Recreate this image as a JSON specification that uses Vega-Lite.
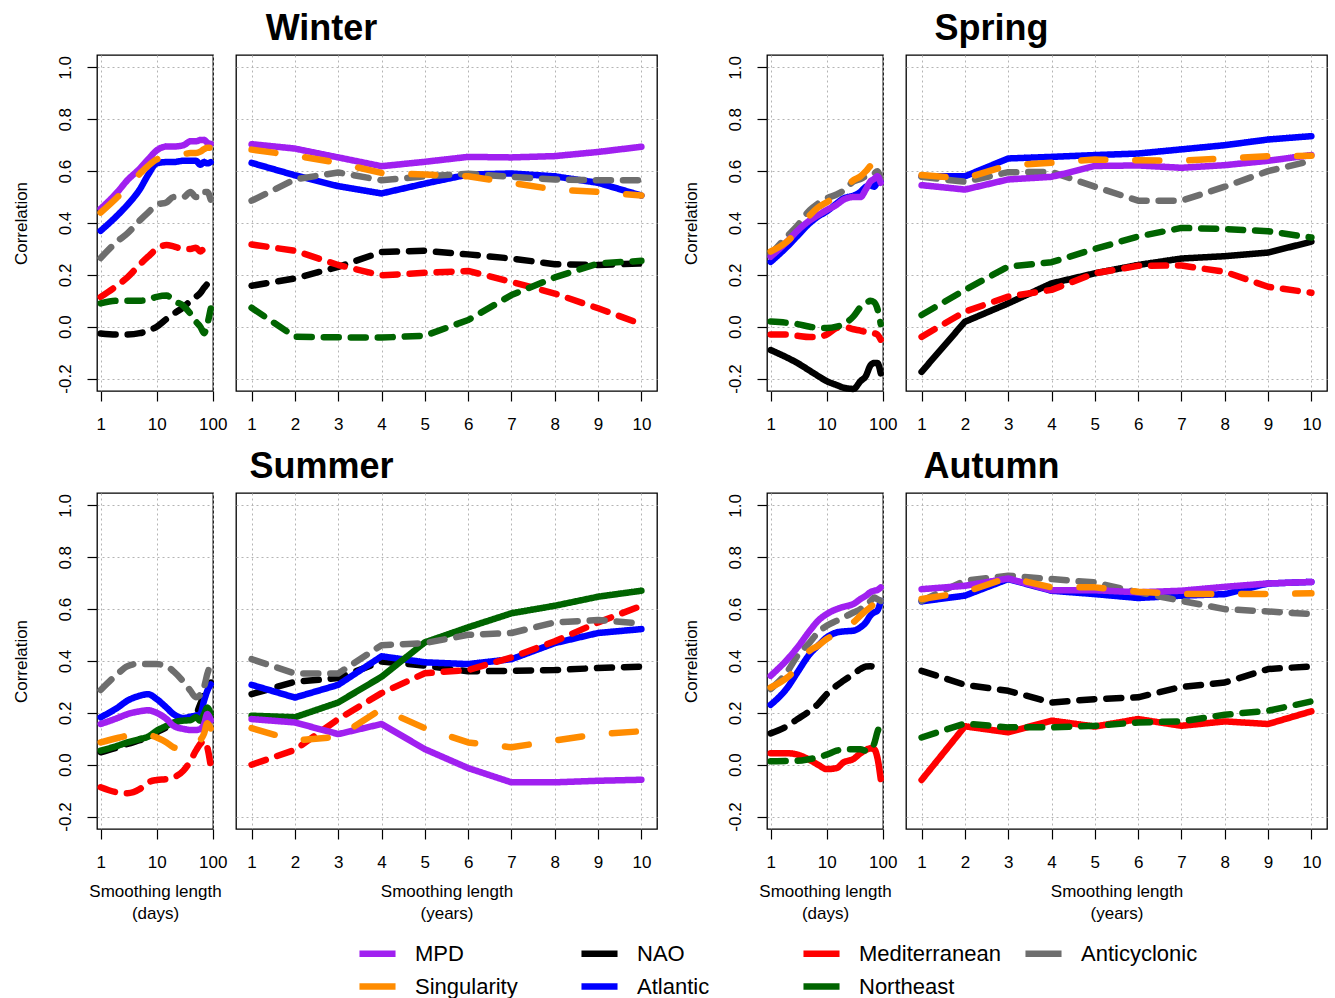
{
"$schema":"https://vega.github.io/schema/vega-lite/v6.json",
"autosize":{"type":"none"},
"padding":{"left":97,"top":55,"right":1238,"bottom":943},
"background":"white",
"config":{
 "font":"Liberation Sans",
 "view":{"stroke":"black","strokeWidth":1.3},
 "axis":{"labelFont":"Liberation Sans","labelFontSize":17,"labelColor":"black","titleFont":"Liberation Sans","titleFontSize":17,"titleFontWeight":"normal","titleColor":"black","domain":false,"tickColor":"black","tickSize":10,"tickWidth":1.2,"grid":true,"gridColor":"#b4b4b4","gridDash":[2,3],"gridWidth":1,"labelFlush":false,"labelOverlap":false},
 "axisX":{"labelPadding":15,"titlePadding":13,"titleLineHeight":22},
 "legend":{"orient":"none","legendX":259,"legendY":877,"columns":4,"symbolType":"stroke","symbolSize":1300,"labelFont":"Liberation Sans","labelFontSize":22,"labelColor":"black","labelOffset":16,"columnPadding":21,"rowPadding":0,"gridAlign":"all","padding":0},
 "title":{"font":"Liberation Sans","fontSize":36,"fontWeight":"bold","color":"black","anchor":"middle","dx":-125,"offset":7,"baseline":"alphabetic"},
 "line":{"strokeCap":"round","strokeJoin":"round"}
},
"datasets":{
"days":[
{"season":"Winter","series":"NAO","x":1,"r":-0.026},{"season":"Winter","series":"NAO","x":2,"r":-0.03},{"season":"Winter","series":"NAO","x":3,"r":-0.03},{"season":"Winter","series":"NAO","x":5,"r":-0.025},{"season":"Winter","series":"NAO","x":7,"r":-0.015},{"season":"Winter","series":"NAO","x":10,"r":0},{"season":"Winter","series":"NAO","x":15,"r":0.03},{"season":"Winter","series":"NAO","x":20,"r":0.05},{"season":"Winter","series":"NAO","x":30,"r":0.075},{"season":"Winter","series":"NAO","x":40,"r":0.1},{"season":"Winter","series":"NAO","x":50,"r":0.115},{"season":"Winter","series":"NAO","x":60,"r":0.13},{"season":"Winter","series":"NAO","x":70,"r":0.15},{"season":"Winter","series":"NAO","x":80,"r":0.165},{"season":"Winter","series":"NAO","x":92,"r":0.185},
{"season":"Winter","series":"Atlantic","x":1,"r":0.37},{"season":"Winter","series":"Atlantic","x":2,"r":0.43},{"season":"Winter","series":"Atlantic","x":3,"r":0.47},{"season":"Winter","series":"Atlantic","x":5,"r":0.53},{"season":"Winter","series":"Atlantic","x":7,"r":0.585},{"season":"Winter","series":"Atlantic","x":10,"r":0.63},{"season":"Winter","series":"Atlantic","x":15,"r":0.635},{"season":"Winter","series":"Atlantic","x":20,"r":0.635},{"season":"Winter","series":"Atlantic","x":30,"r":0.64},{"season":"Winter","series":"Atlantic","x":40,"r":0.64},{"season":"Winter","series":"Atlantic","x":50,"r":0.64},{"season":"Winter","series":"Atlantic","x":60,"r":0.625},{"season":"Winter","series":"Atlantic","x":70,"r":0.635},{"season":"Winter","series":"Atlantic","x":80,"r":0.63},{"season":"Winter","series":"Atlantic","x":92,"r":0.635},
{"season":"Winter","series":"Mediterranean","x":1,"r":0.115},{"season":"Winter","series":"Mediterranean","x":2,"r":0.16},{"season":"Winter","series":"Mediterranean","x":3,"r":0.19},{"season":"Winter","series":"Mediterranean","x":5,"r":0.24},{"season":"Winter","series":"Mediterranean","x":7,"r":0.27},{"season":"Winter","series":"Mediterranean","x":10,"r":0.3},{"season":"Winter","series":"Mediterranean","x":15,"r":0.315},{"season":"Winter","series":"Mediterranean","x":20,"r":0.31},{"season":"Winter","series":"Mediterranean","x":30,"r":0.3},{"season":"Winter","series":"Mediterranean","x":40,"r":0.3},{"season":"Winter","series":"Mediterranean","x":50,"r":0.305},{"season":"Winter","series":"Mediterranean","x":60,"r":0.29},{"season":"Winter","series":"Mediterranean","x":70,"r":0.3},{"season":"Winter","series":"Mediterranean","x":80,"r":0.295},{"season":"Winter","series":"Mediterranean","x":92,"r":0.295},
{"season":"Winter","series":"Northeast","x":1,"r":0.09},{"season":"Winter","series":"Northeast","x":2,"r":0.1},{"season":"Winter","series":"Northeast","x":3,"r":0.1},{"season":"Winter","series":"Northeast","x":5,"r":0.1},{"season":"Winter","series":"Northeast","x":7,"r":0.105},{"season":"Winter","series":"Northeast","x":10,"r":0.115},{"season":"Winter","series":"Northeast","x":15,"r":0.12},{"season":"Winter","series":"Northeast","x":20,"r":0.1},{"season":"Winter","series":"Northeast","x":30,"r":0.08},{"season":"Winter","series":"Northeast","x":40,"r":0.05},{"season":"Winter","series":"Northeast","x":50,"r":0.02},{"season":"Winter","series":"Northeast","x":60,"r":0},{"season":"Winter","series":"Northeast","x":70,"r":-0.025},{"season":"Winter","series":"Northeast","x":80,"r":0.01},{"season":"Winter","series":"Northeast","x":92,"r":0.07},
{"season":"Winter","series":"Anticyclonic","x":1,"r":0.265},{"season":"Winter","series":"Anticyclonic","x":2,"r":0.33},{"season":"Winter","series":"Anticyclonic","x":3,"r":0.36},{"season":"Winter","series":"Anticyclonic","x":5,"r":0.41},{"season":"Winter","series":"Anticyclonic","x":7,"r":0.44},{"season":"Winter","series":"Anticyclonic","x":10,"r":0.47},{"season":"Winter","series":"Anticyclonic","x":15,"r":0.48},{"season":"Winter","series":"Anticyclonic","x":20,"r":0.5},{"season":"Winter","series":"Anticyclonic","x":30,"r":0.5},{"season":"Winter","series":"Anticyclonic","x":40,"r":0.52},{"season":"Winter","series":"Anticyclonic","x":50,"r":0.5},{"season":"Winter","series":"Anticyclonic","x":60,"r":0.5},{"season":"Winter","series":"Anticyclonic","x":70,"r":0.52},{"season":"Winter","series":"Anticyclonic","x":80,"r":0.52},{"season":"Winter","series":"Anticyclonic","x":92,"r":0.49},
{"season":"Winter","series":"MPD","x":1,"r":0.455},{"season":"Winter","series":"MPD","x":2,"r":0.52},{"season":"Winter","series":"MPD","x":3,"r":0.565},{"season":"Winter","series":"MPD","x":5,"r":0.61},{"season":"Winter","series":"MPD","x":7,"r":0.645},{"season":"Winter","series":"MPD","x":10,"r":0.68},{"season":"Winter","series":"MPD","x":15,"r":0.695},{"season":"Winter","series":"MPD","x":20,"r":0.695},{"season":"Winter","series":"MPD","x":30,"r":0.7},{"season":"Winter","series":"MPD","x":40,"r":0.715},{"season":"Winter","series":"MPD","x":50,"r":0.715},{"season":"Winter","series":"MPD","x":60,"r":0.72},{"season":"Winter","series":"MPD","x":70,"r":0.72},{"season":"Winter","series":"MPD","x":80,"r":0.71},{"season":"Winter","series":"MPD","x":92,"r":0.705},
{"season":"Winter","series":"Singularity","x":1,"r":0.44},{"season":"Winter","series":"Singularity","x":2,"r":0.5},{"season":"Winter","series":"Singularity","x":3,"r":0.54},{"season":"Winter","series":"Singularity","x":5,"r":0.59},{"season":"Winter","series":"Singularity","x":7,"r":0.62},{"season":"Winter","series":"Singularity","x":10,"r":0.645},{"season":"Winter","series":"Singularity","x":15,"r":0.655},{"season":"Winter","series":"Singularity","x":20,"r":0.66},{"season":"Winter","series":"Singularity","x":30,"r":0.665},{"season":"Winter","series":"Singularity","x":40,"r":0.67},{"season":"Winter","series":"Singularity","x":50,"r":0.67},{"season":"Winter","series":"Singularity","x":60,"r":0.675},{"season":"Winter","series":"Singularity","x":70,"r":0.685},{"season":"Winter","series":"Singularity","x":80,"r":0.69},{"season":"Winter","series":"Singularity","x":92,"r":0.69},
{"season":"Spring","series":"NAO","x":1,"r":-0.09},{"season":"Spring","series":"NAO","x":2,"r":-0.12},{"season":"Spring","series":"NAO","x":3,"r":-0.14},{"season":"Spring","series":"NAO","x":5,"r":-0.17},{"season":"Spring","series":"NAO","x":7,"r":-0.19},{"season":"Spring","series":"NAO","x":10,"r":-0.21},{"season":"Spring","series":"NAO","x":15,"r":-0.225},{"season":"Spring","series":"NAO","x":20,"r":-0.235},{"season":"Spring","series":"NAO","x":30,"r":-0.24},{"season":"Spring","series":"NAO","x":40,"r":-0.21},{"season":"Spring","series":"NAO","x":50,"r":-0.19},{"season":"Spring","series":"NAO","x":60,"r":-0.15},{"season":"Spring","series":"NAO","x":70,"r":-0.14},{"season":"Spring","series":"NAO","x":80,"r":-0.14},{"season":"Spring","series":"NAO","x":92,"r":-0.18},
{"season":"Spring","series":"Atlantic","x":1,"r":0.25},{"season":"Spring","series":"Atlantic","x":2,"r":0.31},{"season":"Spring","series":"Atlantic","x":3,"r":0.35},{"season":"Spring","series":"Atlantic","x":5,"r":0.4},{"season":"Spring","series":"Atlantic","x":7,"r":0.425},{"season":"Spring","series":"Atlantic","x":10,"r":0.445},{"season":"Spring","series":"Atlantic","x":15,"r":0.475},{"season":"Spring","series":"Atlantic","x":20,"r":0.495},{"season":"Spring","series":"Atlantic","x":30,"r":0.505},{"season":"Spring","series":"Atlantic","x":40,"r":0.52},{"season":"Spring","series":"Atlantic","x":50,"r":0.54},{"season":"Spring","series":"Atlantic","x":60,"r":0.545},{"season":"Spring","series":"Atlantic","x":70,"r":0.54},{"season":"Spring","series":"Atlantic","x":80,"r":0.555},{"season":"Spring","series":"Atlantic","x":92,"r":0.56},
{"season":"Spring","series":"Mediterranean","x":1,"r":-0.03},{"season":"Spring","series":"Mediterranean","x":2,"r":-0.03},{"season":"Spring","series":"Mediterranean","x":3,"r":-0.035},{"season":"Spring","series":"Mediterranean","x":5,"r":-0.04},{"season":"Spring","series":"Mediterranean","x":7,"r":-0.04},{"season":"Spring","series":"Mediterranean","x":10,"r":-0.03},{"season":"Spring","series":"Mediterranean","x":15,"r":-0.005},{"season":"Spring","series":"Mediterranean","x":20,"r":0},{"season":"Spring","series":"Mediterranean","x":30,"r":-0.01},{"season":"Spring","series":"Mediterranean","x":40,"r":-0.015},{"season":"Spring","series":"Mediterranean","x":50,"r":-0.02},{"season":"Spring","series":"Mediterranean","x":60,"r":-0.02},{"season":"Spring","series":"Mediterranean","x":70,"r":-0.025},{"season":"Spring","series":"Mediterranean","x":80,"r":-0.03},{"season":"Spring","series":"Mediterranean","x":92,"r":-0.05},
{"season":"Spring","series":"Northeast","x":1,"r":0.02},{"season":"Spring","series":"Northeast","x":2,"r":0.015},{"season":"Spring","series":"Northeast","x":3,"r":0.01},{"season":"Spring","series":"Northeast","x":5,"r":0},{"season":"Spring","series":"Northeast","x":7,"r":-0.005},{"season":"Spring","series":"Northeast","x":10,"r":-0.005},{"season":"Spring","series":"Northeast","x":15,"r":0},{"season":"Spring","series":"Northeast","x":20,"r":0.01},{"season":"Spring","series":"Northeast","x":30,"r":0.04},{"season":"Spring","series":"Northeast","x":40,"r":0.075},{"season":"Spring","series":"Northeast","x":50,"r":0.09},{"season":"Spring","series":"Northeast","x":60,"r":0.1},{"season":"Spring","series":"Northeast","x":70,"r":0.095},{"season":"Spring","series":"Northeast","x":80,"r":0.07},{"season":"Spring","series":"Northeast","x":92,"r":0.01},
{"season":"Spring","series":"Anticyclonic","x":1,"r":0.28},{"season":"Spring","series":"Anticyclonic","x":2,"r":0.35},{"season":"Spring","series":"Anticyclonic","x":3,"r":0.39},{"season":"Spring","series":"Anticyclonic","x":5,"r":0.45},{"season":"Spring","series":"Anticyclonic","x":7,"r":0.475},{"season":"Spring","series":"Anticyclonic","x":10,"r":0.495},{"season":"Spring","series":"Anticyclonic","x":15,"r":0.51},{"season":"Spring","series":"Anticyclonic","x":20,"r":0.525},{"season":"Spring","series":"Anticyclonic","x":30,"r":0.56},{"season":"Spring","series":"Anticyclonic","x":40,"r":0.57},{"season":"Spring","series":"Anticyclonic","x":50,"r":0.58},{"season":"Spring","series":"Anticyclonic","x":60,"r":0.585},{"season":"Spring","series":"Anticyclonic","x":70,"r":0.59},{"season":"Spring","series":"Anticyclonic","x":80,"r":0.6},{"season":"Spring","series":"Anticyclonic","x":92,"r":0.57},
{"season":"Spring","series":"MPD","x":1,"r":0.27},{"season":"Spring","series":"MPD","x":2,"r":0.33},{"season":"Spring","series":"MPD","x":3,"r":0.37},{"season":"Spring","series":"MPD","x":5,"r":0.41},{"season":"Spring","series":"MPD","x":7,"r":0.43},{"season":"Spring","series":"MPD","x":10,"r":0.45},{"season":"Spring","series":"MPD","x":15,"r":0.47},{"season":"Spring","series":"MPD","x":20,"r":0.49},{"season":"Spring","series":"MPD","x":30,"r":0.5},{"season":"Spring","series":"MPD","x":40,"r":0.5},{"season":"Spring","series":"MPD","x":50,"r":0.53},{"season":"Spring","series":"MPD","x":60,"r":0.56},{"season":"Spring","series":"MPD","x":70,"r":0.57},{"season":"Spring","series":"MPD","x":80,"r":0.58},{"season":"Spring","series":"MPD","x":92,"r":0.555},
{"season":"Spring","series":"Singularity","x":1,"r":0.29},{"season":"Spring","series":"Singularity","x":2,"r":0.33},{"season":"Spring","series":"Singularity","x":3,"r":0.37},{"season":"Spring","series":"Singularity","x":5,"r":0.43},{"season":"Spring","series":"Singularity","x":7,"r":0.46},{"season":"Spring","series":"Singularity","x":10,"r":0.48},{"season":"Spring","series":"Singularity","x":15,"r":0.505},{"season":"Spring","series":"Singularity","x":20,"r":0.53},{"season":"Spring","series":"Singularity","x":30,"r":0.565},{"season":"Spring","series":"Singularity","x":40,"r":0.58},{"season":"Spring","series":"Singularity","x":50,"r":0.6},{"season":"Spring","series":"Singularity","x":60,"r":0.62},{"season":"Spring","series":"Singularity","x":70,"r":0.63},{"season":"Spring","series":"Singularity","x":80,"r":0.62},{"season":"Spring","series":"Singularity","x":92,"r":0.585},
{"season":"Summer","series":"NAO","x":1,"r":0.048},{"season":"Summer","series":"NAO","x":2,"r":0.067},{"season":"Summer","series":"NAO","x":3,"r":0.08},{"season":"Summer","series":"NAO","x":5,"r":0.095},{"season":"Summer","series":"NAO","x":7,"r":0.105},{"season":"Summer","series":"NAO","x":10,"r":0.125},{"season":"Summer","series":"NAO","x":15,"r":0.144},{"season":"Summer","series":"NAO","x":20,"r":0.16},{"season":"Summer","series":"NAO","x":30,"r":0.176},{"season":"Summer","series":"NAO","x":40,"r":0.183},{"season":"Summer","series":"NAO","x":50,"r":0.195},{"season":"Summer","series":"NAO","x":60,"r":0.234},{"season":"Summer","series":"NAO","x":70,"r":0.27},{"season":"Summer","series":"NAO","x":80,"r":0.31},{"season":"Summer","series":"NAO","x":92,"r":0.317},
{"season":"Summer","series":"Atlantic","x":1,"r":0.183},{"season":"Summer","series":"Atlantic","x":2,"r":0.22},{"season":"Summer","series":"Atlantic","x":3,"r":0.247},{"season":"Summer","series":"Atlantic","x":5,"r":0.266},{"season":"Summer","series":"Atlantic","x":7,"r":0.272},{"season":"Summer","series":"Atlantic","x":10,"r":0.253},{"season":"Summer","series":"Atlantic","x":15,"r":0.22},{"season":"Summer","series":"Atlantic","x":20,"r":0.195},{"season":"Summer","series":"Atlantic","x":30,"r":0.18},{"season":"Summer","series":"Atlantic","x":40,"r":0.185},{"season":"Summer","series":"Atlantic","x":50,"r":0.19},{"season":"Summer","series":"Atlantic","x":60,"r":0.195},{"season":"Summer","series":"Atlantic","x":70,"r":0.247},{"season":"Summer","series":"Atlantic","x":80,"r":0.285},{"season":"Summer","series":"Atlantic","x":92,"r":0.31},
{"season":"Summer","series":"Mediterranean","x":1,"r":-0.087},{"season":"Summer","series":"Mediterranean","x":2,"r":-0.107},{"season":"Summer","series":"Mediterranean","x":3,"r":-0.11},{"season":"Summer","series":"Mediterranean","x":5,"r":-0.094},{"season":"Summer","series":"Mediterranean","x":7,"r":-0.068},{"season":"Summer","series":"Mediterranean","x":10,"r":-0.059},{"season":"Summer","series":"Mediterranean","x":15,"r":-0.055},{"season":"Summer","series":"Mediterranean","x":20,"r":-0.049},{"season":"Summer","series":"Mediterranean","x":30,"r":-0.023},{"season":"Summer","series":"Mediterranean","x":40,"r":0.015},{"season":"Summer","series":"Mediterranean","x":50,"r":0.054},{"season":"Summer","series":"Mediterranean","x":60,"r":0.08},{"season":"Summer","series":"Mediterranean","x":70,"r":0.093},{"season":"Summer","series":"Mediterranean","x":80,"r":0.067},{"season":"Summer","series":"Mediterranean","x":92,"r":-0.004},
{"season":"Summer","series":"Northeast","x":1,"r":0.054},{"season":"Summer","series":"Northeast","x":2,"r":0.073},{"season":"Summer","series":"Northeast","x":3,"r":0.086},{"season":"Summer","series":"Northeast","x":5,"r":0.099},{"season":"Summer","series":"Northeast","x":7,"r":0.108},{"season":"Summer","series":"Northeast","x":10,"r":0.131},{"season":"Summer","series":"Northeast","x":15,"r":0.15},{"season":"Summer","series":"Northeast","x":20,"r":0.163},{"season":"Summer","series":"Northeast","x":30,"r":0.17},{"season":"Summer","series":"Northeast","x":40,"r":0.172},{"season":"Summer","series":"Northeast","x":50,"r":0.183},{"season":"Summer","series":"Northeast","x":60,"r":0.17},{"season":"Summer","series":"Northeast","x":70,"r":0.195},{"season":"Summer","series":"Northeast","x":80,"r":0.22},{"season":"Summer","series":"Northeast","x":92,"r":0.195},
{"season":"Summer","series":"Anticyclonic","x":1,"r":0.288},{"season":"Summer","series":"Anticyclonic","x":2,"r":0.35},{"season":"Summer","series":"Anticyclonic","x":3,"r":0.38},{"season":"Summer","series":"Anticyclonic","x":5,"r":0.39},{"season":"Summer","series":"Anticyclonic","x":7,"r":0.388},{"season":"Summer","series":"Anticyclonic","x":10,"r":0.388},{"season":"Summer","series":"Anticyclonic","x":15,"r":0.38},{"season":"Summer","series":"Anticyclonic","x":20,"r":0.36},{"season":"Summer","series":"Anticyclonic","x":30,"r":0.32},{"season":"Summer","series":"Anticyclonic","x":40,"r":0.285},{"season":"Summer","series":"Anticyclonic","x":50,"r":0.26},{"season":"Summer","series":"Anticyclonic","x":60,"r":0.27},{"season":"Summer","series":"Anticyclonic","x":70,"r":0.3},{"season":"Summer","series":"Anticyclonic","x":80,"r":0.35},{"season":"Summer","series":"Anticyclonic","x":92,"r":0.39},
{"season":"Summer","series":"MPD","x":1,"r":0.157},{"season":"Summer","series":"MPD","x":2,"r":0.18},{"season":"Summer","series":"MPD","x":3,"r":0.195},{"season":"Summer","series":"MPD","x":5,"r":0.206},{"season":"Summer","series":"MPD","x":7,"r":0.21},{"season":"Summer","series":"MPD","x":10,"r":0.2},{"season":"Summer","series":"MPD","x":15,"r":0.176},{"season":"Summer","series":"MPD","x":20,"r":0.15},{"season":"Summer","series":"MPD","x":30,"r":0.138},{"season":"Summer","series":"MPD","x":40,"r":0.134},{"season":"Summer","series":"MPD","x":50,"r":0.134},{"season":"Summer","series":"MPD","x":60,"r":0.138},{"season":"Summer","series":"MPD","x":70,"r":0.157},{"season":"Summer","series":"MPD","x":80,"r":0.195},{"season":"Summer","series":"MPD","x":92,"r":0.17},
{"season":"Summer","series":"Singularity","x":1,"r":0.086},{"season":"Summer","series":"Singularity","x":2,"r":0.103},{"season":"Summer","series":"Singularity","x":3,"r":0.112},{"season":"Summer","series":"Singularity","x":5,"r":0.118},{"season":"Summer","series":"Singularity","x":7,"r":0.116},{"season":"Summer","series":"Singularity","x":10,"r":0.105},{"season":"Summer","series":"Singularity","x":15,"r":0.086},{"season":"Summer","series":"Singularity","x":20,"r":0.067},{"season":"Summer","series":"Singularity","x":30,"r":0.06},{"season":"Summer","series":"Singularity","x":40,"r":0.07},{"season":"Summer","series":"Singularity","x":50,"r":0.08},{"season":"Summer","series":"Singularity","x":60,"r":0.095},{"season":"Summer","series":"Singularity","x":70,"r":0.12},{"season":"Summer","series":"Singularity","x":80,"r":0.16},{"season":"Summer","series":"Singularity","x":92,"r":0.14},
{"season":"Autumn","series":"NAO","x":1,"r":0.121},{"season":"Autumn","series":"NAO","x":2,"r":0.15},{"season":"Autumn","series":"NAO","x":3,"r":0.176},{"season":"Autumn","series":"NAO","x":5,"r":0.208},{"season":"Autumn","series":"NAO","x":7,"r":0.234},{"season":"Autumn","series":"NAO","x":10,"r":0.272},{"season":"Autumn","series":"NAO","x":15,"r":0.305},{"season":"Autumn","series":"NAO","x":20,"r":0.324},{"season":"Autumn","series":"NAO","x":30,"r":0.35},{"season":"Autumn","series":"NAO","x":40,"r":0.369},{"season":"Autumn","series":"NAO","x":50,"r":0.379},{"season":"Autumn","series":"NAO","x":60,"r":0.38},{"season":"Autumn","series":"NAO","x":70,"r":0.375},{"season":"Autumn","series":"NAO","x":80,"r":0.369},{"season":"Autumn","series":"NAO","x":92,"r":0.37},
{"season":"Autumn","series":"Atlantic","x":1,"r":0.231},{"season":"Autumn","series":"Atlantic","x":2,"r":0.298},{"season":"Autumn","series":"Atlantic","x":3,"r":0.356},{"season":"Autumn","series":"Atlantic","x":5,"r":0.427},{"season":"Autumn","series":"Atlantic","x":7,"r":0.459},{"season":"Autumn","series":"Atlantic","x":10,"r":0.491},{"season":"Autumn","series":"Atlantic","x":15,"r":0.51},{"season":"Autumn","series":"Atlantic","x":20,"r":0.514},{"season":"Autumn","series":"Atlantic","x":30,"r":0.517},{"season":"Autumn","series":"Atlantic","x":40,"r":0.53},{"season":"Autumn","series":"Atlantic","x":50,"r":0.549},{"season":"Autumn","series":"Atlantic","x":60,"r":0.575},{"season":"Autumn","series":"Atlantic","x":70,"r":0.587},{"season":"Autumn","series":"Atlantic","x":80,"r":0.594},{"season":"Autumn","series":"Atlantic","x":92,"r":0.632},
{"season":"Autumn","series":"Mediterranean","x":1,"r":0.044},{"season":"Autumn","series":"Mediterranean","x":2,"r":0.044},{"season":"Autumn","series":"Mediterranean","x":3,"r":0.039},{"season":"Autumn","series":"Mediterranean","x":5,"r":0.018},{"season":"Autumn","series":"Mediterranean","x":7,"r":0},{"season":"Autumn","series":"Mediterranean","x":10,"r":-0.017},{"season":"Autumn","series":"Mediterranean","x":15,"r":-0.013},{"season":"Autumn","series":"Mediterranean","x":20,"r":0.009},{"season":"Autumn","series":"Mediterranean","x":30,"r":0.022},{"season":"Autumn","series":"Mediterranean","x":40,"r":0.044},{"season":"Autumn","series":"Mediterranean","x":50,"r":0.057},{"season":"Autumn","series":"Mediterranean","x":60,"r":0.063},{"season":"Autumn","series":"Mediterranean","x":70,"r":0.06},{"season":"Autumn","series":"Mediterranean","x":80,"r":0.028},{"season":"Autumn","series":"Mediterranean","x":92,"r":-0.055},
{"season":"Autumn","series":"Northeast","x":1,"r":0.013},{"season":"Autumn","series":"Northeast","x":2,"r":0.014},{"season":"Autumn","series":"Northeast","x":3,"r":0.015},{"season":"Autumn","series":"Northeast","x":5,"r":0.022},{"season":"Autumn","series":"Northeast","x":7,"r":0.028},{"season":"Autumn","series":"Northeast","x":10,"r":0.039},{"season":"Autumn","series":"Northeast","x":15,"r":0.054},{"season":"Autumn","series":"Northeast","x":20,"r":0.06},{"season":"Autumn","series":"Northeast","x":30,"r":0.06},{"season":"Autumn","series":"Northeast","x":40,"r":0.06},{"season":"Autumn","series":"Northeast","x":50,"r":0.054},{"season":"Autumn","series":"Northeast","x":60,"r":0.06},{"season":"Autumn","series":"Northeast","x":70,"r":0.08},{"season":"Autumn","series":"Northeast","x":80,"r":0.125},{"season":"Autumn","series":"Northeast","x":92,"r":0.157},
{"season":"Autumn","series":"Anticyclonic","x":1,"r":0.292},{"season":"Autumn","series":"Anticyclonic","x":2,"r":0.36},{"season":"Autumn","series":"Anticyclonic","x":3,"r":0.42},{"season":"Autumn","series":"Anticyclonic","x":5,"r":0.472},{"season":"Autumn","series":"Anticyclonic","x":7,"r":0.51},{"season":"Autumn","series":"Anticyclonic","x":10,"r":0.536},{"season":"Autumn","series":"Anticyclonic","x":15,"r":0.555},{"season":"Autumn","series":"Anticyclonic","x":20,"r":0.568},{"season":"Autumn","series":"Anticyclonic","x":30,"r":0.587},{"season":"Autumn","series":"Anticyclonic","x":40,"r":0.6},{"season":"Autumn","series":"Anticyclonic","x":50,"r":0.617},{"season":"Autumn","series":"Anticyclonic","x":60,"r":0.63},{"season":"Autumn","series":"Anticyclonic","x":70,"r":0.645},{"season":"Autumn","series":"Anticyclonic","x":80,"r":0.639},{"season":"Autumn","series":"Anticyclonic","x":92,"r":0.632},
{"season":"Autumn","series":"MPD","x":1,"r":0.343},{"season":"Autumn","series":"MPD","x":2,"r":0.407},{"season":"Autumn","series":"MPD","x":3,"r":0.452},{"season":"Autumn","series":"MPD","x":5,"r":0.517},{"season":"Autumn","series":"MPD","x":7,"r":0.555},{"season":"Autumn","series":"MPD","x":10,"r":0.581},{"season":"Autumn","series":"MPD","x":15,"r":0.6},{"season":"Autumn","series":"MPD","x":20,"r":0.609},{"season":"Autumn","series":"MPD","x":30,"r":0.62},{"season":"Autumn","series":"MPD","x":40,"r":0.639},{"season":"Autumn","series":"MPD","x":50,"r":0.652},{"season":"Autumn","series":"MPD","x":60,"r":0.665},{"season":"Autumn","series":"MPD","x":70,"r":0.671},{"season":"Autumn","series":"MPD","x":80,"r":0.674},{"season":"Autumn","series":"MPD","x":92,"r":0.684},
{"season":"Autumn","series":"Singularity","x":1,"r":0.298},{"season":"Autumn","series":"Singularity","x":2,"r":0.337},{"season":"Autumn","series":"Singularity","x":3,"r":0.375},{"season":"Autumn","series":"Singularity","x":5,"r":0.44},{"season":"Autumn","series":"Singularity","x":7,"r":0.459},{"season":"Autumn","series":"Singularity","x":10,"r":0.485},{"season":"Autumn","series":"Singularity","x":15,"r":0.504},{"season":"Autumn","series":"Singularity","x":20,"r":0.517},{"season":"Autumn","series":"Singularity","x":30,"r":0.549},{"season":"Autumn","series":"Singularity","x":40,"r":0.575},{"season":"Autumn","series":"Singularity","x":50,"r":0.594},{"season":"Autumn","series":"Singularity","x":60,"r":0.607},{"season":"Autumn","series":"Singularity","x":70,"r":0.62},{"season":"Autumn","series":"Singularity","x":80,"r":0.626},{"season":"Autumn","series":"Singularity","x":92,"r":0.62}
],
"years":[
{"season":"Winter","series":"NAO","x":1,"r":0.158},{"season":"Winter","series":"NAO","x":2,"r":0.186},{"season":"Winter","series":"NAO","x":3,"r":0.231},{"season":"Winter","series":"NAO","x":4,"r":0.288},{"season":"Winter","series":"NAO","x":5,"r":0.293},{"season":"Winter","series":"NAO","x":6,"r":0.279},{"season":"Winter","series":"NAO","x":7,"r":0.263},{"season":"Winter","series":"NAO","x":8,"r":0.241},{"season":"Winter","series":"NAO","x":9,"r":0.238},{"season":"Winter","series":"NAO","x":10,"r":0.244},
{"season":"Winter","series":"Atlantic","x":1,"r":0.632},{"season":"Winter","series":"Atlantic","x":2,"r":0.584},{"season":"Winter","series":"Atlantic","x":3,"r":0.542},{"season":"Winter","series":"Atlantic","x":4,"r":0.514},{"season":"Winter","series":"Atlantic","x":5,"r":0.552},{"season":"Winter","series":"Atlantic","x":6,"r":0.587},{"season":"Winter","series":"Atlantic","x":7,"r":0.591},{"season":"Winter","series":"Atlantic","x":8,"r":0.58},{"season":"Winter","series":"Atlantic","x":9,"r":0.555},{"season":"Winter","series":"Atlantic","x":10,"r":0.506},
{"season":"Winter","series":"Mediterranean","x":1,"r":0.317},{"season":"Winter","series":"Mediterranean","x":2,"r":0.293},{"season":"Winter","series":"Mediterranean","x":3,"r":0.238},{"season":"Winter","series":"Mediterranean","x":4,"r":0.198},{"season":"Winter","series":"Mediterranean","x":5,"r":0.208},{"season":"Winter","series":"Mediterranean","x":6,"r":0.215},{"season":"Winter","series":"Mediterranean","x":7,"r":0.173},{"season":"Winter","series":"Mediterranean","x":8,"r":0.128},{"season":"Winter","series":"Mediterranean","x":9,"r":0.071},{"season":"Winter","series":"Mediterranean","x":10,"r":0.01},
{"season":"Winter","series":"Northeast","x":1,"r":0.073},{"season":"Winter","series":"Northeast","x":2,"r":-0.039},{"season":"Winter","series":"Northeast","x":3,"r":-0.041},{"season":"Winter","series":"Northeast","x":4,"r":-0.042},{"season":"Winter","series":"Northeast","x":5,"r":-0.035},{"season":"Winter","series":"Northeast","x":6,"r":0.026},{"season":"Winter","series":"Northeast","x":7,"r":0.122},{"season":"Winter","series":"Northeast","x":8,"r":0.19},{"season":"Winter","series":"Northeast","x":9,"r":0.244},{"season":"Winter","series":"Northeast","x":10,"r":0.254},
{"season":"Winter","series":"Anticyclonic","x":1,"r":0.486},{"season":"Winter","series":"Anticyclonic","x":2,"r":0.568},{"season":"Winter","series":"Anticyclonic","x":3,"r":0.595},{"season":"Winter","series":"Anticyclonic","x":4,"r":0.565},{"season":"Winter","series":"Anticyclonic","x":5,"r":0.58},{"season":"Winter","series":"Anticyclonic","x":6,"r":0.59},{"season":"Winter","series":"Anticyclonic","x":7,"r":0.578},{"season":"Winter","series":"Anticyclonic","x":8,"r":0.568},{"season":"Winter","series":"Anticyclonic","x":9,"r":0.565},{"season":"Winter","series":"Anticyclonic","x":10,"r":0.565},
{"season":"Winter","series":"MPD","x":1,"r":0.704},{"season":"Winter","series":"MPD","x":2,"r":0.687},{"season":"Winter","series":"MPD","x":3,"r":0.653},{"season":"Winter","series":"MPD","x":4,"r":0.619},{"season":"Winter","series":"MPD","x":5,"r":0.636},{"season":"Winter","series":"MPD","x":6,"r":0.655},{"season":"Winter","series":"MPD","x":7,"r":0.653},{"season":"Winter","series":"MPD","x":8,"r":0.658},{"season":"Winter","series":"MPD","x":9,"r":0.674},{"season":"Winter","series":"MPD","x":10,"r":0.694},
{"season":"Winter","series":"Singularity","x":1,"r":0.683},{"season":"Winter","series":"Singularity","x":2,"r":0.66},{"season":"Winter","series":"Singularity","x":3,"r":0.632},{"season":"Winter","series":"Singularity","x":4,"r":0.593},{"season":"Winter","series":"Singularity","x":5,"r":0.587},{"season":"Winter","series":"Singularity","x":6,"r":0.58},{"season":"Winter","series":"Singularity","x":7,"r":0.555},{"season":"Winter","series":"Singularity","x":8,"r":0.529},{"season":"Winter","series":"Singularity","x":9,"r":0.52},{"season":"Winter","series":"Singularity","x":10,"r":0.506},
{"season":"Spring","series":"NAO","x":1,"r":-0.174},{"season":"Spring","series":"NAO","x":2,"r":0.019},{"season":"Spring","series":"NAO","x":3,"r":0.09},{"season":"Spring","series":"NAO","x":4,"r":0.167},{"season":"Spring","series":"NAO","x":5,"r":0.206},{"season":"Spring","series":"NAO","x":6,"r":0.238},{"season":"Spring","series":"NAO","x":7,"r":0.263},{"season":"Spring","series":"NAO","x":8,"r":0.272},{"season":"Spring","series":"NAO","x":9,"r":0.286},{"season":"Spring","series":"NAO","x":10,"r":0.328},
{"season":"Spring","series":"Atlantic","x":1,"r":0.58},{"season":"Spring","series":"Atlantic","x":2,"r":0.58},{"season":"Spring","series":"Atlantic","x":3,"r":0.649},{"season":"Spring","series":"Atlantic","x":4,"r":0.655},{"season":"Spring","series":"Atlantic","x":5,"r":0.662},{"season":"Spring","series":"Atlantic","x":6,"r":0.668},{"season":"Spring","series":"Atlantic","x":7,"r":0.684},{"season":"Spring","series":"Atlantic","x":8,"r":0.7},{"season":"Spring","series":"Atlantic","x":9,"r":0.722},{"season":"Spring","series":"Atlantic","x":10,"r":0.735},
{"season":"Spring","series":"Mediterranean","x":1,"r":-0.039},{"season":"Spring","series":"Mediterranean","x":2,"r":0.058},{"season":"Spring","series":"Mediterranean","x":3,"r":0.116},{"season":"Spring","series":"Mediterranean","x":4,"r":0.142},{"season":"Spring","series":"Mediterranean","x":5,"r":0.206},{"season":"Spring","series":"Mediterranean","x":6,"r":0.235},{"season":"Spring","series":"Mediterranean","x":7,"r":0.236},{"season":"Spring","series":"Mediterranean","x":8,"r":0.212},{"season":"Spring","series":"Mediterranean","x":9,"r":0.154},{"season":"Spring","series":"Mediterranean","x":10,"r":0.131},
{"season":"Spring","series":"Northeast","x":1,"r":0.045},{"season":"Spring","series":"Northeast","x":2,"r":0.142},{"season":"Spring","series":"Northeast","x":3,"r":0.232},{"season":"Spring","series":"Northeast","x":4,"r":0.249},{"season":"Spring","series":"Northeast","x":5,"r":0.3},{"season":"Spring","series":"Northeast","x":6,"r":0.348},{"season":"Spring","series":"Northeast","x":7,"r":0.381},{"season":"Spring","series":"Northeast","x":8,"r":0.377},{"season":"Spring","series":"Northeast","x":9,"r":0.368},{"season":"Spring","series":"Northeast","x":10,"r":0.344},
{"season":"Spring","series":"Anticyclonic","x":1,"r":0.578},{"season":"Spring","series":"Anticyclonic","x":2,"r":0.559},{"season":"Spring","series":"Anticyclonic","x":3,"r":0.596},{"season":"Spring","series":"Anticyclonic","x":4,"r":0.597},{"season":"Spring","series":"Anticyclonic","x":5,"r":0.54},{"season":"Spring","series":"Anticyclonic","x":6,"r":0.486},{"season":"Spring","series":"Anticyclonic","x":7,"r":0.486},{"season":"Spring","series":"Anticyclonic","x":8,"r":0.54},{"season":"Spring","series":"Anticyclonic","x":9,"r":0.6},{"season":"Spring","series":"Anticyclonic","x":10,"r":0.64},
{"season":"Spring","series":"MPD","x":1,"r":0.546},{"season":"Spring","series":"MPD","x":2,"r":0.529},{"season":"Spring","series":"MPD","x":3,"r":0.568},{"season":"Spring","series":"MPD","x":4,"r":0.578},{"season":"Spring","series":"MPD","x":5,"r":0.62},{"season":"Spring","series":"MPD","x":6,"r":0.622},{"season":"Spring","series":"MPD","x":7,"r":0.613},{"season":"Spring","series":"MPD","x":8,"r":0.623},{"season":"Spring","series":"MPD","x":9,"r":0.64},{"season":"Spring","series":"MPD","x":10,"r":0.662},
{"season":"Spring","series":"Singularity","x":1,"r":0.585},{"season":"Spring","series":"Singularity","x":2,"r":0.572},{"season":"Spring","series":"Singularity","x":3,"r":0.623},{"season":"Spring","series":"Singularity","x":4,"r":0.632},{"season":"Spring","series":"Singularity","x":5,"r":0.645},{"season":"Spring","series":"Singularity","x":6,"r":0.642},{"season":"Spring","series":"Singularity","x":7,"r":0.64},{"season":"Spring","series":"Singularity","x":8,"r":0.649},{"season":"Spring","series":"Singularity","x":9,"r":0.658},{"season":"Spring","series":"Singularity","x":10,"r":0.659},
{"season":"Summer","series":"NAO","x":1,"r":0.272},{"season":"Summer","series":"NAO","x":2,"r":0.32},{"season":"Summer","series":"NAO","x":3,"r":0.334},{"season":"Summer","series":"NAO","x":4,"r":0.398},{"season":"Summer","series":"NAO","x":5,"r":0.382},{"season":"Summer","series":"NAO","x":6,"r":0.36},{"season":"Summer","series":"NAO","x":7,"r":0.362},{"season":"Summer","series":"NAO","x":8,"r":0.365},{"season":"Summer","series":"NAO","x":9,"r":0.373},{"season":"Summer","series":"NAO","x":10,"r":0.378},
{"season":"Summer","series":"Atlantic","x":1,"r":0.308},{"season":"Summer","series":"Atlantic","x":2,"r":0.259},{"season":"Summer","series":"Atlantic","x":3,"r":0.308},{"season":"Summer","series":"Atlantic","x":4,"r":0.418},{"season":"Summer","series":"Atlantic","x":5,"r":0.395},{"season":"Summer","series":"Atlantic","x":6,"r":0.388},{"season":"Summer","series":"Atlantic","x":7,"r":0.407},{"season":"Summer","series":"Atlantic","x":8,"r":0.469},{"season":"Summer","series":"Atlantic","x":9,"r":0.508},{"season":"Summer","series":"Atlantic","x":10,"r":0.523},
{"season":"Summer","series":"Mediterranean","x":1,"r":0},{"season":"Summer","series":"Mediterranean","x":2,"r":0.057},{"season":"Summer","series":"Mediterranean","x":3,"r":0.176},{"season":"Summer","series":"Mediterranean","x":4,"r":0.276},{"season":"Summer","series":"Mediterranean","x":5,"r":0.353},{"season":"Summer","series":"Mediterranean","x":6,"r":0.365},{"season":"Summer","series":"Mediterranean","x":7,"r":0.414},{"season":"Summer","series":"Mediterranean","x":8,"r":0.476},{"season":"Summer","series":"Mediterranean","x":9,"r":0.549},{"season":"Summer","series":"Mediterranean","x":10,"r":0.613},
{"season":"Summer","series":"Northeast","x":1,"r":0.189},{"season":"Summer","series":"Northeast","x":2,"r":0.183},{"season":"Summer","series":"Northeast","x":3,"r":0.24},{"season":"Summer","series":"Northeast","x":4,"r":0.339},{"season":"Summer","series":"Northeast","x":5,"r":0.472},{"season":"Summer","series":"Northeast","x":6,"r":0.53},{"season":"Summer","series":"Northeast","x":7,"r":0.584},{"season":"Summer","series":"Northeast","x":8,"r":0.613},{"season":"Summer","series":"Northeast","x":9,"r":0.648},{"season":"Summer","series":"Northeast","x":10,"r":0.671},
{"season":"Summer","series":"Anticyclonic","x":1,"r":0.407},{"season":"Summer","series":"Anticyclonic","x":2,"r":0.352},{"season":"Summer","series":"Anticyclonic","x":3,"r":0.352},{"season":"Summer","series":"Anticyclonic","x":4,"r":0.461},{"season":"Summer","series":"Anticyclonic","x":5,"r":0.469},{"season":"Summer","series":"Anticyclonic","x":6,"r":0.501},{"season":"Summer","series":"Anticyclonic","x":7,"r":0.508},{"season":"Summer","series":"Anticyclonic","x":8,"r":0.549},{"season":"Summer","series":"Anticyclonic","x":9,"r":0.558},{"season":"Summer","series":"Anticyclonic","x":10,"r":0.545},
{"season":"Summer","series":"MPD","x":1,"r":0.176},{"season":"Summer","series":"MPD","x":2,"r":0.163},{"season":"Summer","series":"MPD","x":3,"r":0.118},{"season":"Summer","series":"MPD","x":4,"r":0.157},{"season":"Summer","series":"MPD","x":5,"r":0.06},{"season":"Summer","series":"MPD","x":6,"r":-0.013},{"season":"Summer","series":"MPD","x":7,"r":-0.068},{"season":"Summer","series":"MPD","x":8,"r":-0.068},{"season":"Summer","series":"MPD","x":9,"r":-0.062},{"season":"Summer","series":"MPD","x":10,"r":-0.058},
{"season":"Summer","series":"Singularity","x":1,"r":0.141},{"season":"Summer","series":"Singularity","x":2,"r":0.093},{"season":"Summer","series":"Singularity","x":3,"r":0.108},{"season":"Summer","series":"Singularity","x":4,"r":0.215},{"season":"Summer","series":"Singularity","x":5,"r":0.141},{"season":"Summer","series":"Singularity","x":6,"r":0.086},{"season":"Summer","series":"Singularity","x":7,"r":0.067},{"season":"Summer","series":"Singularity","x":8,"r":0.093},{"season":"Summer","series":"Singularity","x":9,"r":0.118},{"season":"Summer","series":"Singularity","x":10,"r":0.129},
{"season":"Autumn","series":"NAO","x":1,"r":0.362},{"season":"Autumn","series":"NAO","x":2,"r":0.308},{"season":"Autumn","series":"NAO","x":3,"r":0.285},{"season":"Autumn","series":"NAO","x":4,"r":0.24},{"season":"Autumn","series":"NAO","x":5,"r":0.253},{"season":"Autumn","series":"NAO","x":6,"r":0.26},{"season":"Autumn","series":"NAO","x":7,"r":0.3},{"season":"Autumn","series":"NAO","x":8,"r":0.317},{"season":"Autumn","series":"NAO","x":9,"r":0.369},{"season":"Autumn","series":"NAO","x":10,"r":0.379},
{"season":"Autumn","series":"Atlantic","x":1,"r":0.63},{"season":"Autumn","series":"Atlantic","x":2,"r":0.652},{"season":"Autumn","series":"Atlantic","x":3,"r":0.716},{"season":"Autumn","series":"Atlantic","x":4,"r":0.671},{"season":"Autumn","series":"Atlantic","x":5,"r":0.658},{"season":"Autumn","series":"Atlantic","x":6,"r":0.643},{"season":"Autumn","series":"Atlantic","x":7,"r":0.652},{"season":"Autumn","series":"Atlantic","x":8,"r":0.658},{"season":"Autumn","series":"Atlantic","x":9,"r":0.699},{"season":"Autumn","series":"Atlantic","x":10,"r":0.705},
{"season":"Autumn","series":"Mediterranean","x":1,"r":-0.059},{"season":"Autumn","series":"Mediterranean","x":2,"r":0.148},{"season":"Autumn","series":"Mediterranean","x":3,"r":0.125},{"season":"Autumn","series":"Mediterranean","x":4,"r":0.17},{"season":"Autumn","series":"Mediterranean","x":5,"r":0.147},{"season":"Autumn","series":"Mediterranean","x":6,"r":0.176},{"season":"Autumn","series":"Mediterranean","x":7,"r":0.15},{"season":"Autumn","series":"Mediterranean","x":8,"r":0.167},{"season":"Autumn","series":"Mediterranean","x":9,"r":0.157},{"season":"Autumn","series":"Mediterranean","x":10,"r":0.206},
{"season":"Autumn","series":"Northeast","x":1,"r":0.105},{"season":"Autumn","series":"Northeast","x":2,"r":0.159},{"season":"Autumn","series":"Northeast","x":3,"r":0.144},{"season":"Autumn","series":"Northeast","x":4,"r":0.144},{"season":"Autumn","series":"Northeast","x":5,"r":0.15},{"season":"Autumn","series":"Northeast","x":6,"r":0.163},{"season":"Autumn","series":"Northeast","x":7,"r":0.167},{"season":"Autumn","series":"Northeast","x":8,"r":0.193},{"season":"Autumn","series":"Northeast","x":9,"r":0.208},{"season":"Autumn","series":"Northeast","x":10,"r":0.244},
{"season":"Autumn","series":"Anticyclonic","x":1,"r":0.632},{"season":"Autumn","series":"Anticyclonic","x":2,"r":0.71},{"season":"Autumn","series":"Anticyclonic","x":3,"r":0.729},{"season":"Autumn","series":"Anticyclonic","x":4,"r":0.716},{"season":"Autumn","series":"Anticyclonic","x":5,"r":0.703},{"season":"Autumn","series":"Anticyclonic","x":6,"r":0.665},{"season":"Autumn","series":"Anticyclonic","x":7,"r":0.632},{"season":"Autumn","series":"Anticyclonic","x":8,"r":0.6},{"season":"Autumn","series":"Anticyclonic","x":9,"r":0.591},{"season":"Autumn","series":"Anticyclonic","x":10,"r":0.581},
{"season":"Autumn","series":"MPD","x":1,"r":0.677},{"season":"Autumn","series":"MPD","x":2,"r":0.69},{"season":"Autumn","series":"MPD","x":3,"r":0.718},{"season":"Autumn","series":"MPD","x":4,"r":0.673},{"season":"Autumn","series":"MPD","x":5,"r":0.673},{"season":"Autumn","series":"MPD","x":6,"r":0.665},{"season":"Autumn","series":"MPD","x":7,"r":0.671},{"season":"Autumn","series":"MPD","x":8,"r":0.686},{"season":"Autumn","series":"MPD","x":9,"r":0.699},{"season":"Autumn","series":"MPD","x":10,"r":0.705},
{"season":"Autumn","series":"Singularity","x":1,"r":0.639},{"season":"Autumn","series":"Singularity","x":2,"r":0.665},{"season":"Autumn","series":"Singularity","x":3,"r":0.722},{"season":"Autumn","series":"Singularity","x":4,"r":0.684},{"season":"Autumn","series":"Singularity","x":5,"r":0.684},{"season":"Autumn","series":"Singularity","x":6,"r":0.667},{"season":"Autumn","series":"Singularity","x":7,"r":0.658},{"season":"Autumn","series":"Singularity","x":8,"r":0.658},{"season":"Autumn","series":"Singularity","x":9,"r":0.658},{"season":"Autumn","series":"Singularity","x":10,"r":0.661}
]
},
"spacing":15,
"vconcat":[
{"hconcat":[
 {"hconcat":[
  {"width":116,"height":336,"data":{"name":"days"},"transform":[{"filter":"datum.season==='Winter'"}],
   "mark":{"type":"line","interpolate":"monotone"},
   "encoding":{
    "x":{"field":"x","type":"quantitative","scale":{"type":"log","domain":[0.86,101],"nice":false},"axis":{"values":[1,10,100],"format":"d","title":null}},
    "y":{"field":"r","type":"quantitative","scale":{"domain":[-0.248,1.048],"nice":false,"zero":false},"axis":{"values":[-0.2,0,0.2,0.4,0.6,0.8,1],"labelExpr":"replace(format(datum.value,'.1f'),'\u2212','-')","title":"Correlation","labelAngle":-90,"labelAlign":"center","labelBaseline":"alphabetic","labelPadding":17,"titlePadding":26}},
    "color":{"field":"series","type":"nominal","title":null,"scale":{"domain":["MPD","Singularity","NAO","Atlantic","Mediterranean","Northeast","Anticyclonic"],"range":["#A020F0","#FF8C00","#000000","#0000FF","#FF0000","#006400","#6E6E6E"]}},
    "strokeWidth":{"field":"series","type":"nominal","title":null,"scale":{"domain":["MPD","Singularity","NAO","Atlantic","Mediterranean","Northeast","Anticyclonic"],"range":[6.5,6.5,2.8,2.8,2.8,2.8,2.8]}},
    "strokeDash":{"condition":[{"test":"datum.series==='Singularity'","value":[24,30]},{"test":"datum.series==='MPD'||datum.series==='Atlantic'||(datum.series==='NAO'&&datum.season==='Spring')||(datum.series==='Northeast'&&datum.season==='Summer')||(datum.series==='Mediterranean'&&datum.season==='Autumn')","value":[1,0]}],"value":[15,12]}
   }},
  {"width":421,"height":336,"data":{"name":"years"},"transform":[{"filter":"datum.season==='Winter'"}],
   "title":{"text":"Winter"},
   "mark":{"type":"line"},
   "encoding":{
    "x":{"field":"x","type":"quantitative","scale":{"domain":[0.64,10.36],"nice":false,"zero":false},"axis":{"values":[1,2,3,4,5,6,7,8,9,10],"format":"d","title":null}},
    "y":{"field":"r","type":"quantitative","scale":{"domain":[-0.248,1.048],"nice":false,"zero":false},"axis":{"values":[-0.2,0,0.2,0.4,0.6,0.8,1],"labels":false,"ticks":false,"title":null}},
    "color":{"field":"series","type":"nominal","title":null,"scale":{"domain":["MPD","Singularity","NAO","Atlantic","Mediterranean","Northeast","Anticyclonic"],"range":["#A020F0","#FF8C00","#000000","#0000FF","#FF0000","#006400","#6E6E6E"]}},
    "strokeWidth":{"field":"series","type":"nominal","title":null,"scale":{"domain":["MPD","Singularity","NAO","Atlantic","Mediterranean","Northeast","Anticyclonic"],"range":[6.5,6.5,2.8,2.8,2.8,2.8,2.8]}},
    "strokeDash":{"condition":[{"test":"datum.series==='Singularity'","value":[24,30]},{"test":"datum.series==='MPD'||datum.series==='Atlantic'||(datum.series==='NAO'&&datum.season==='Spring')||(datum.series==='Northeast'&&datum.season==='Summer')||(datum.series==='Mediterranean'&&datum.season==='Autumn')","value":[1,0]}],"value":[15,12]}
   }}
 ],"spacing":23,"bounds":"flush"},
 {"hconcat":[
  {"width":116,"height":336,"data":{"name":"days"},"transform":[{"filter":"datum.season==='Spring'"}],
   "mark":{"type":"line","interpolate":"monotone"},
   "encoding":{
    "x":{"field":"x","type":"quantitative","scale":{"type":"log","domain":[0.86,101],"nice":false},"axis":{"values":[1,10,100],"format":"d","title":null}},
    "y":{"field":"r","type":"quantitative","scale":{"domain":[-0.248,1.048],"nice":false,"zero":false},"axis":{"values":[-0.2,0,0.2,0.4,0.6,0.8,1],"labelExpr":"replace(format(datum.value,'.1f'),'\u2212','-')","title":"Correlation","labelAngle":-90,"labelAlign":"center","labelBaseline":"alphabetic","labelPadding":17,"titlePadding":26}},
    "color":{"field":"series","type":"nominal","title":null,"scale":{"domain":["MPD","Singularity","NAO","Atlantic","Mediterranean","Northeast","Anticyclonic"],"range":["#A020F0","#FF8C00","#000000","#0000FF","#FF0000","#006400","#6E6E6E"]}},
    "strokeWidth":{"field":"series","type":"nominal","title":null,"scale":{"domain":["MPD","Singularity","NAO","Atlantic","Mediterranean","Northeast","Anticyclonic"],"range":[6.5,6.5,2.8,2.8,2.8,2.8,2.8]}},
    "strokeDash":{"condition":[{"test":"datum.series==='Singularity'","value":[24,30]},{"test":"datum.series==='MPD'||datum.series==='Atlantic'||(datum.series==='NAO'&&datum.season==='Spring')||(datum.series==='Northeast'&&datum.season==='Summer')||(datum.series==='Mediterranean'&&datum.season==='Autumn')","value":[1,0]}],"value":[15,12]}
   }},
  {"width":421,"height":336,"data":{"name":"years"},"transform":[{"filter":"datum.season==='Spring'"}],
   "title":{"text":"Spring"},
   "mark":{"type":"line"},
   "encoding":{
    "x":{"field":"x","type":"quantitative","scale":{"domain":[0.64,10.36],"nice":false,"zero":false},"axis":{"values":[1,2,3,4,5,6,7,8,9,10],"format":"d","title":null}},
    "y":{"field":"r","type":"quantitative","scale":{"domain":[-0.248,1.048],"nice":false,"zero":false},"axis":{"values":[-0.2,0,0.2,0.4,0.6,0.8,1],"labels":false,"ticks":false,"title":null}},
    "color":{"field":"series","type":"nominal","title":null,"scale":{"domain":["MPD","Singularity","NAO","Atlantic","Mediterranean","Northeast","Anticyclonic"],"range":["#A020F0","#FF8C00","#000000","#0000FF","#FF0000","#006400","#6E6E6E"]}},
    "strokeWidth":{"field":"series","type":"nominal","title":null,"scale":{"domain":["MPD","Singularity","NAO","Atlantic","Mediterranean","Northeast","Anticyclonic"],"range":[6.5,6.5,2.8,2.8,2.8,2.8,2.8]}},
    "strokeDash":{"condition":[{"test":"datum.series==='Singularity'","value":[24,30]},{"test":"datum.series==='MPD'||datum.series==='Atlantic'||(datum.series==='NAO'&&datum.season==='Spring')||(datum.series==='Northeast'&&datum.season==='Summer')||(datum.series==='Mediterranean'&&datum.season==='Autumn')","value":[1,0]}],"value":[15,12]}
   }}
 ],"spacing":23,"bounds":"flush"}
],"spacing":23},
{"hconcat":[
 {"hconcat":[
  {"width":116,"height":336,"data":{"name":"days"},"transform":[{"filter":"datum.season==='Summer'"}],
   "mark":{"type":"line","interpolate":"monotone"},
   "encoding":{
    "x":{"field":"x","type":"quantitative","scale":{"type":"log","domain":[0.86,101],"nice":false},"axis":{"values":[1,10,100],"format":"d","title":["Smoothing length","(days)"]}},
    "y":{"field":"r","type":"quantitative","scale":{"domain":[-0.248,1.048],"nice":false,"zero":false},"axis":{"values":[-0.2,0,0.2,0.4,0.6,0.8,1],"labelExpr":"replace(format(datum.value,'.1f'),'\u2212','-')","title":"Correlation","labelAngle":-90,"labelAlign":"center","labelBaseline":"alphabetic","labelPadding":17,"titlePadding":26}},
    "color":{"field":"series","type":"nominal","title":null,"scale":{"domain":["MPD","Singularity","NAO","Atlantic","Mediterranean","Northeast","Anticyclonic"],"range":["#A020F0","#FF8C00","#000000","#0000FF","#FF0000","#006400","#6E6E6E"]}},
    "strokeWidth":{"field":"series","type":"nominal","title":null,"scale":{"domain":["MPD","Singularity","NAO","Atlantic","Mediterranean","Northeast","Anticyclonic"],"range":[6.5,6.5,2.8,2.8,2.8,2.8,2.8]}},
    "strokeDash":{"condition":[{"test":"datum.series==='Singularity'","value":[24,30]},{"test":"datum.series==='MPD'||datum.series==='Atlantic'||(datum.series==='NAO'&&datum.season==='Spring')||(datum.series==='Northeast'&&datum.season==='Summer')||(datum.series==='Mediterranean'&&datum.season==='Autumn')","value":[1,0]}],"value":[15,12]}
   }},
  {"width":421,"height":336,"data":{"name":"years"},"transform":[{"filter":"datum.season==='Summer'"}],
   "title":{"text":"Summer"},
   "mark":{"type":"line"},
   "encoding":{
    "x":{"field":"x","type":"quantitative","scale":{"domain":[0.64,10.36],"nice":false,"zero":false},"axis":{"values":[1,2,3,4,5,6,7,8,9,10],"format":"d","title":["Smoothing length","(years)"]}},
    "y":{"field":"r","type":"quantitative","scale":{"domain":[-0.248,1.048],"nice":false,"zero":false},"axis":{"values":[-0.2,0,0.2,0.4,0.6,0.8,1],"labels":false,"ticks":false,"title":null}},
    "color":{"field":"series","type":"nominal","title":null,"scale":{"domain":["MPD","Singularity","NAO","Atlantic","Mediterranean","Northeast","Anticyclonic"],"range":["#A020F0","#FF8C00","#000000","#0000FF","#FF0000","#006400","#6E6E6E"]}},
    "strokeWidth":{"field":"series","type":"nominal","title":null,"scale":{"domain":["MPD","Singularity","NAO","Atlantic","Mediterranean","Northeast","Anticyclonic"],"range":[6.5,6.5,2.8,2.8,2.8,2.8,2.8]}},
    "strokeDash":{"condition":[{"test":"datum.series==='Singularity'","value":[24,30]},{"test":"datum.series==='MPD'||datum.series==='Atlantic'||(datum.series==='NAO'&&datum.season==='Spring')||(datum.series==='Northeast'&&datum.season==='Summer')||(datum.series==='Mediterranean'&&datum.season==='Autumn')","value":[1,0]}],"value":[15,12]}
   }}
 ],"spacing":23,"bounds":"flush"},
 {"hconcat":[
  {"width":116,"height":336,"data":{"name":"days"},"transform":[{"filter":"datum.season==='Autumn'"}],
   "mark":{"type":"line","interpolate":"monotone"},
   "encoding":{
    "x":{"field":"x","type":"quantitative","scale":{"type":"log","domain":[0.86,101],"nice":false},"axis":{"values":[1,10,100],"format":"d","title":["Smoothing length","(days)"]}},
    "y":{"field":"r","type":"quantitative","scale":{"domain":[-0.248,1.048],"nice":false,"zero":false},"axis":{"values":[-0.2,0,0.2,0.4,0.6,0.8,1],"labelExpr":"replace(format(datum.value,'.1f'),'\u2212','-')","title":"Correlation","labelAngle":-90,"labelAlign":"center","labelBaseline":"alphabetic","labelPadding":17,"titlePadding":26}},
    "color":{"field":"series","type":"nominal","title":null,"scale":{"domain":["MPD","Singularity","NAO","Atlantic","Mediterranean","Northeast","Anticyclonic"],"range":["#A020F0","#FF8C00","#000000","#0000FF","#FF0000","#006400","#6E6E6E"]}},
    "strokeWidth":{"field":"series","type":"nominal","title":null,"scale":{"domain":["MPD","Singularity","NAO","Atlantic","Mediterranean","Northeast","Anticyclonic"],"range":[6.5,6.5,2.8,2.8,2.8,2.8,2.8]}},
    "strokeDash":{"condition":[{"test":"datum.series==='Singularity'","value":[24,30]},{"test":"datum.series==='MPD'||datum.series==='Atlantic'||(datum.series==='NAO'&&datum.season==='Spring')||(datum.series==='Northeast'&&datum.season==='Summer')||(datum.series==='Mediterranean'&&datum.season==='Autumn')","value":[1,0]}],"value":[15,12]}
   }},
  {"width":421,"height":336,"data":{"name":"years"},"transform":[{"filter":"datum.season==='Autumn'"}],
   "title":{"text":"Autumn"},
   "mark":{"type":"line"},
   "encoding":{
    "x":{"field":"x","type":"quantitative","scale":{"domain":[0.64,10.36],"nice":false,"zero":false},"axis":{"values":[1,2,3,4,5,6,7,8,9,10],"format":"d","title":["Smoothing length","(years)"]}},
    "y":{"field":"r","type":"quantitative","scale":{"domain":[-0.248,1.048],"nice":false,"zero":false},"axis":{"values":[-0.2,0,0.2,0.4,0.6,0.8,1],"labels":false,"ticks":false,"title":null}},
    "color":{"field":"series","type":"nominal","title":null,"scale":{"domain":["MPD","Singularity","NAO","Atlantic","Mediterranean","Northeast","Anticyclonic"],"range":["#A020F0","#FF8C00","#000000","#0000FF","#FF0000","#006400","#6E6E6E"]}},
    "strokeWidth":{"field":"series","type":"nominal","title":null,"scale":{"domain":["MPD","Singularity","NAO","Atlantic","Mediterranean","Northeast","Anticyclonic"],"range":[6.5,6.5,2.8,2.8,2.8,2.8,2.8]}},
    "strokeDash":{"condition":[{"test":"datum.series==='Singularity'","value":[24,30]},{"test":"datum.series==='MPD'||datum.series==='Atlantic'||(datum.series==='NAO'&&datum.season==='Spring')||(datum.series==='Northeast'&&datum.season==='Summer')||(datum.series==='Mediterranean'&&datum.season==='Autumn')","value":[1,0]}],"value":[15,12]}
   }}
 ],"spacing":23,"bounds":"flush"}
],"spacing":23}
]
}
